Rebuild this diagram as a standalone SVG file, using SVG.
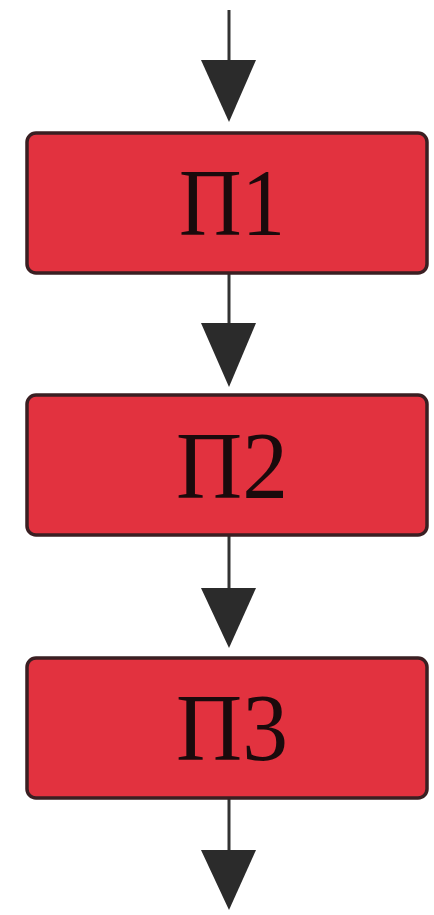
<svg xmlns="http://www.w3.org/2000/svg" width="434" height="915" viewBox="0 0 434 915">
<style>
.box{fill:#e2323f;stroke:#3a1f22;stroke-width:3.5}
.lbl{font-family:"Liberation Serif",serif;font-size:96px;fill:#1a0a0c;text-anchor:middle}
.ln{stroke:#333;stroke-width:3;fill:none}
.hd{fill:#2b2b2b}
</style>
<rect width="434" height="915" fill="#fff"/>
<g id="connectors">
<line class="ln" x1="229" y1="10" x2="229" y2="70"/>
<polygon class="hd" points="201,60 256,60 229,122"/>
<line class="ln" x1="229" y1="273" x2="229" y2="330"/>
<polygon class="hd" points="201,323 256,323 229,387"/>
<line class="ln" x1="229" y1="535" x2="229" y2="595"/>
<polygon class="hd" points="201,588 256,588 229,648"/>
<line class="ln" x1="229" y1="798" x2="229" y2="858"/>
<polygon class="hd" points="201,850 256,850 229,910"/>
</g>
<g id="p1">
<rect class="box" x="27" y="133" width="400" height="140" rx="9"/>
<text class="lbl" x="232" y="235" textLength="106" lengthAdjust="spacingAndGlyphs">П1</text>
</g>
<g id="p2">
<rect class="box" x="27" y="395" width="400" height="140" rx="9"/>
<text class="lbl" x="232" y="498" textLength="112" lengthAdjust="spacingAndGlyphs">П2</text>
</g>
<g id="p3">
<rect class="box" x="27" y="658" width="400" height="140" rx="9"/>
<text class="lbl" x="232" y="760" textLength="112" lengthAdjust="spacingAndGlyphs">П3</text>
</g>
</svg>
